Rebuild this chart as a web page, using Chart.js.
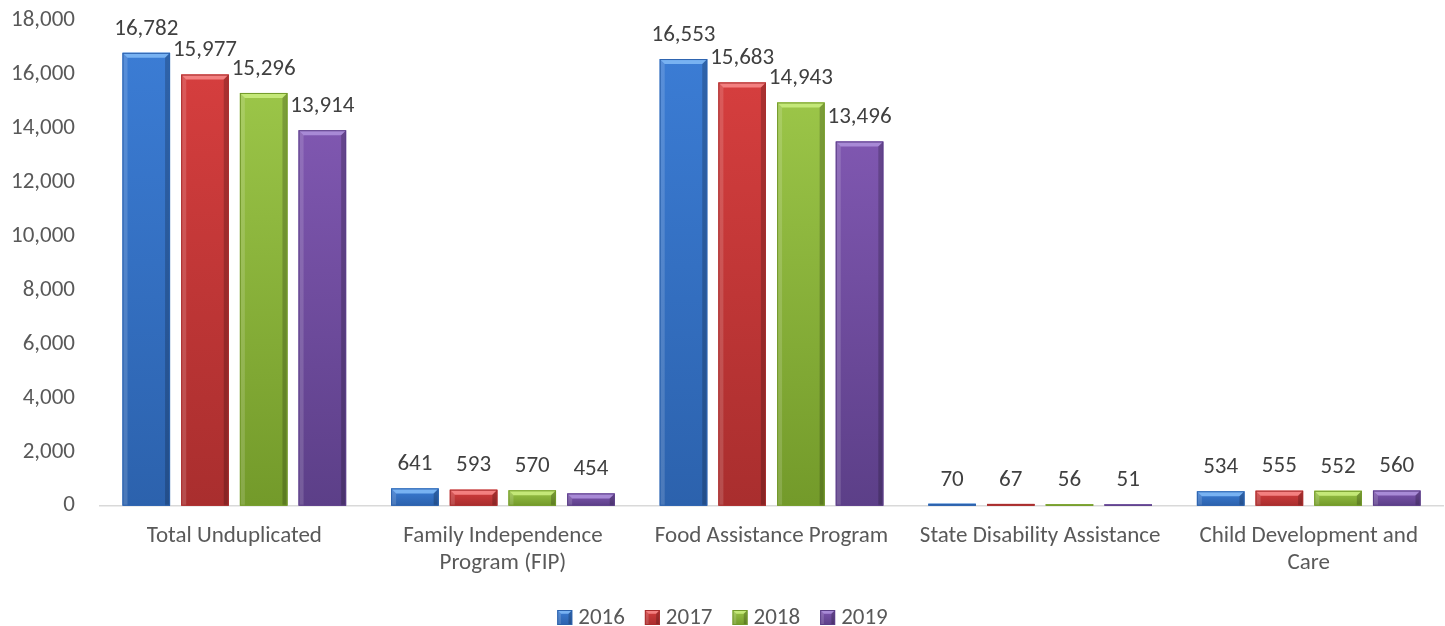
<!DOCTYPE html>
<html>
<head>
<meta charset="utf-8">
<script src="https://cdn.jsdelivr.net/npm/chart.js@4/dist/chart.umd.min.js"></script>
<style>
  html, body { margin: 0; padding: 0; background: #fff; }
  #wrap { width: 1445px; height: 626px; }
</style>
</head>
<body>
<div id="wrap"><canvas id="myChart" width="1445" height="626"></canvas></div>
<script>
const categories = [
  'Total Unduplicated',
  ['Family Independence', 'Program (FIP)'],
  'Food Assistance Program',
  'State Disability Assistance',
  ['Child Development and', 'Care'],
];
const years = ['2016', '2017', '2018', '2019'];
const values2016 = [16782, 641, 16553, 70, 534];
const values2017 = [15977, 593, 15683, 67, 555];
const values2018 = [15296, 570, 14943, 56, 552];
const values2019 = [13914, 454, 13496, 51, 560];
const yTicks = [0, 2000, 4000, 6000, 8000, 10000, 12000, 14000, 16000, 18000];

const fontFamily = "Carlito, Calibri, Lato, 'Open Sans', sans-serif";
const fontSize = 23;
const colors = ['#3b7cd4', '#d53e3e', '#9bc548', '#7f57b0'];
const lights = ['#78b2f2', '#f38080', '#c4e878', '#a88ad6'];
const darks = ['#2c62ad', '#a92e2e', '#739a2a', '#5c3f88'];

function drawBevelBox(ctx, left, top, w, h, di) {
  const right = left + w;
  const bottom = top + h;
  const b = Math.min(5, h / 2, w / 4);
  const g = ctx.createLinearGradient(0, top, 0, bottom);
  g.addColorStop(0, colors[di]);
  g.addColorStop(1, darks[di]);
  ctx.fillStyle = g;
  ctx.fillRect(left, top, w, h);
  // top bevel
  ctx.fillStyle = lights[di];
  ctx.beginPath();
  ctx.moveTo(left, top);
  ctx.lineTo(right, top);
  ctx.lineTo(right - b, top + b);
  ctx.lineTo(left + b, top + b);
  ctx.closePath();
  ctx.fill();
  // left bevel
  ctx.fillStyle = 'rgba(255,255,255,0.15)';
  ctx.beginPath();
  ctx.moveTo(left, top);
  ctx.lineTo(left + b, top + b);
  ctx.lineTo(left + b, bottom);
  ctx.lineTo(left, bottom);
  ctx.closePath();
  ctx.fill();
  // right bevel
  ctx.fillStyle = 'rgba(0,0,0,0.2)';
  ctx.beginPath();
  ctx.moveTo(right, top);
  ctx.lineTo(right - b, top + b);
  ctx.lineTo(right - b, bottom);
  ctx.lineTo(right, bottom);
  ctx.closePath();
  ctx.fill();
  ctx.strokeStyle = darks[di];
  ctx.lineWidth = 1;
  ctx.strokeRect(left + 0.5, top + 0.5, w - 1, h - 1);
}

// bevel look for each bar
const bevel = {
  id: 'bevel',
  afterDatasetsDraw(chart) {
    const { ctx } = chart;
    chart.data.datasets.forEach((ds, di) => {
      chart.getDatasetMeta(di).data.forEach((bar) => {
        const h = bar.base - bar.y;
        if (h < 1) return;
        ctx.save();
        drawBevelBox(ctx, bar.x - bar.width / 2, bar.y, bar.width, h, di);
        ctx.restore();
      });
    });
  },
};

const valueLabels = {
  id: 'valueLabels',
  afterDatasetsDraw(chart) {
    const { ctx } = chart;
    ctx.save();
    ctx.font = fontSize + 'px ' + fontFamily;
    ctx.fillStyle = '#404040';
    ctx.textAlign = 'center';
    ctx.textBaseline = 'middle';
    chart.data.datasets.forEach((ds, di) => {
      chart.getDatasetMeta(di).data.forEach((bar, i) => {
        ctx.fillText(ds.data[i].toLocaleString('en-US'), bar.x, bar.y - 24);
      });
    });
    ctx.restore();
  },
};

// legend drawn by hand so it sits low like the original
const bottomLegend = {
  id: 'bottomLegend',
  afterDraw(chart) {
    const { ctx } = chart;
    ctx.save();
    ctx.font = fontSize + 'px ' + fontFamily;
    ctx.textBaseline = 'middle';
    ctx.textAlign = 'left';
    const box = 15, gap = 6, spacing = 20;
    const widths = years.map((y) => box + gap + ctx.measureText(y).width);
    const total = widths.reduce((a, b) => a + b, 0) + spacing * (years.length - 1);
    let x = chart.width / 2 - total / 2;
    const y = 617;
    years.forEach((yr, i) => {
      drawBevelBox(ctx, x, y - 7, box, box, i);
      ctx.fillStyle = '#595959';
      ctx.fillText(yr, x + box + gap, y + 1);
      x += widths[i] + spacing;
    });
    ctx.restore();
  },
};

const allValues = [values2016, values2017, values2018, values2019];

const config = {
  type: 'bar',
  data: {
    labels: categories,
    datasets: years.map((y, i) => ({
      label: y,
      data: allValues[i],
      backgroundColor: colors[i],
      borderWidth: 0,
      categoryPercentage: 0.874,
      barPercentage: 0.81,
    })),
  },
  options: {
    responsive: false,
    animation: false,
    layout: { padding: { top: 0, right: 2, left: -14, bottom: 32 } },
    plugins: {
      legend: { display: false },
      tooltip: { enabled: false },
    },
    scales: {
      x: {
        grid: { display: false, drawTicks: false },
        border: { display: true, color: '#d9d9d9', width: 1.5 },
        ticks: {
          color: '#595959',
          padding: 17,
          maxRotation: 0,
          autoSkip: false,
          font: { family: fontFamily, size: fontSize, lineHeight: 1.18 },
        },
      },
      y: {
        min: 0,
        max: 18000,
        afterBuildTicks(axis) {
          axis.ticks = yTicks.map((v) => ({ value: v }));
        },
        afterFit(axis) {
          axis.paddingTop = 20;
          axis.paddingBottom = 0;
        },
        grid: { display: false, drawTicks: false },
        border: { display: false },
        ticks: {
          color: '#595959',
          padding: 25,
          font: { family: fontFamily, size: fontSize },
          callback: (v) => v.toLocaleString('en-US'),
        },
      },
    },
  },
  plugins: [bevel, valueLabels, bottomLegend],
};

const myChart = new Chart(document.getElementById('myChart'), config);
</script>
</body>
</html>
